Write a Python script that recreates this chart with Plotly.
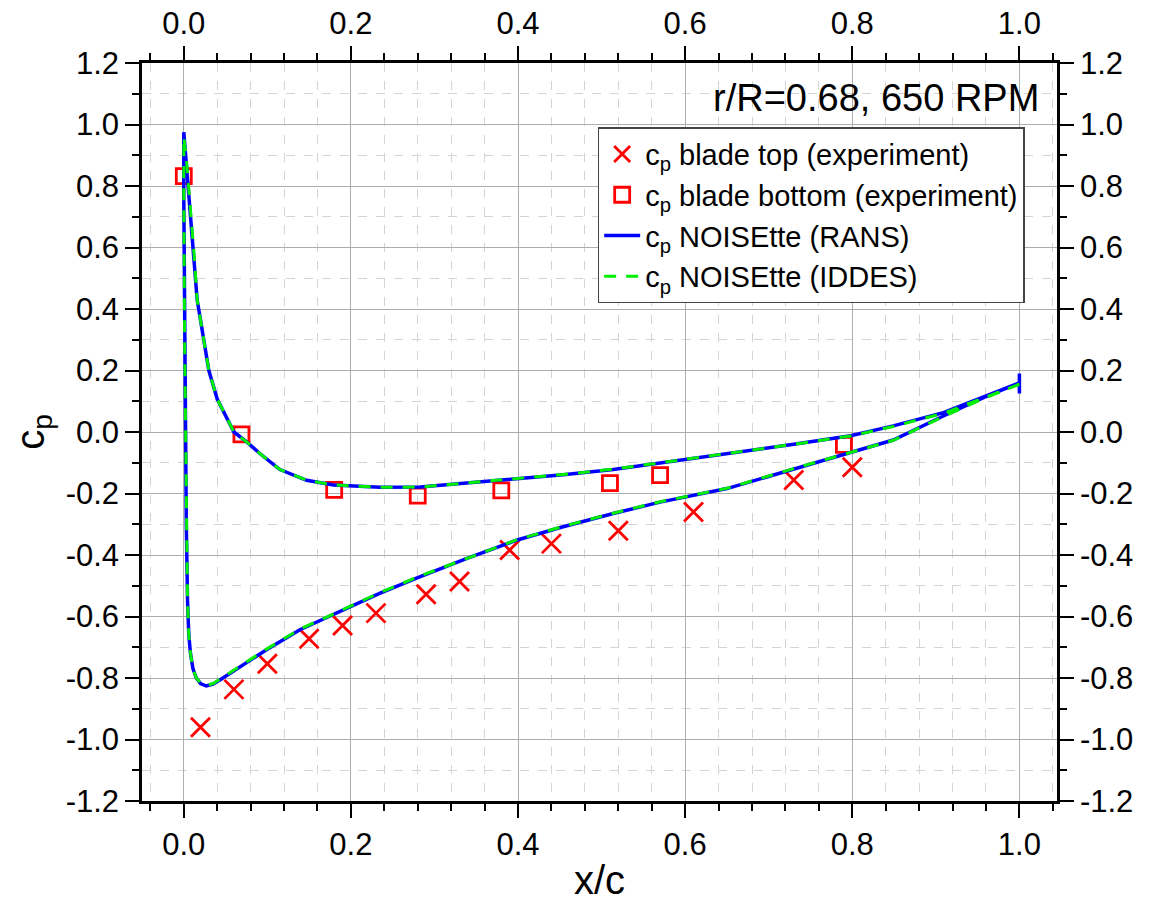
import plotly.graph_objects as go

# experiment, blade top (suction side)
x_top_exp = [0.02, 0.06, 0.10, 0.15, 0.19, 0.23, 0.29, 0.33, 0.39, 0.44, 0.52, 0.61, 0.73, 0.80]
cp_top_exp = [-0.96, -0.837, -0.754, -0.672, -0.629, -0.589, -0.528, -0.486, -0.384, -0.363, -0.321, -0.26, -0.156, -0.115]

# experiment, blade bottom (pressure side)
x_bot_exp = [0.0, 0.069, 0.18, 0.28, 0.38, 0.51, 0.57, 0.79]
cp_bot_exp = [0.832, -0.008, -0.188, -0.207, -0.19, -0.166, -0.14, -0.042]

# NOISEtte RANS: pressure side (LE -> TE) and suction side (LE -> TE)
x_rans_ps = [0.0, 0.002, 0.005, 0.008, 0.011, 0.016, 0.022, 0.030, 0.040, 0.050, 0.060, 0.076, 0.091,
             0.115, 0.147, 0.179, 0.235, 0.283, 0.339, 0.398, 0.454, 0.514, 0.57, 0.65,
             0.73, 0.798, 0.849, 0.909, 0.957, 1.0]
cp_rans_ps = [0.975, 0.90, 0.81, 0.70, 0.60, 0.43, 0.324, 0.20, 0.107, 0.053, 0.0, -0.034, -0.07,
              -0.122, -0.157, -0.172, -0.18, -0.179, -0.167, -0.153, -0.139, -0.122, -0.101, -0.071,
              -0.04, -0.012, 0.02, 0.063, 0.113, 0.16]
x_rans_ss = [0.0, 0.0, 0.001, 0.002, 0.003, 0.0045, 0.006, 0.008, 0.011, 0.015, 0.020, 0.027, 0.035,
             0.045, 0.067, 0.099, 0.139, 0.179, 0.235, 0.283, 0.339, 0.398, 0.454, 0.514, 0.57,
             0.65, 0.73, 0.798, 0.849, 0.909, 0.957, 1.0, 1.0, 1.0]
cp_rans_ss = [0.975, 0.77, 0.30, 0.0, -0.30, -0.55, -0.66, -0.72, -0.77, -0.80, -0.818, -0.826, -0.82,
              -0.803, -0.764, -0.708, -0.643, -0.594, -0.524, -0.47, -0.411, -0.352, -0.308, -0.265, -0.228,
              -0.184, -0.12, -0.067, -0.026, 0.052, 0.112, 0.16, 0.19, 0.125]

# NOISEtte IDDES
x_iddes_ps = [0.0, 0.003, 0.006, 0.009, 0.012, 0.016, 0.022, 0.030, 0.040, 0.050, 0.060, 0.076, 0.091,
              0.115, 0.147, 0.179, 0.235, 0.283, 0.339, 0.398, 0.454, 0.514, 0.57, 0.65,
              0.73, 0.798, 0.849, 0.909, 0.957, 1.0]
cp_iddes_ps = [0.96, 0.89, 0.80, 0.69, 0.59, 0.43, 0.324, 0.20, 0.107, 0.053, 0.0, -0.034, -0.07,
               -0.122, -0.157, -0.172, -0.18, -0.179, -0.166, -0.152, -0.138, -0.121, -0.1, -0.07,
               -0.04, -0.013, 0.018, 0.061, 0.11, 0.155]
x_iddes_ss = [0.0, 0.0, 0.001, 0.002, 0.003, 0.0045, 0.006, 0.008, 0.011, 0.015, 0.020, 0.027, 0.035,
              0.045, 0.067, 0.099, 0.139, 0.179, 0.235, 0.283, 0.339, 0.398, 0.454, 0.514, 0.57,
              0.65, 0.73, 0.798, 0.849, 0.909, 0.957, 1.0]
cp_iddes_ss = [0.96, 0.77, 0.30, 0.0, -0.30, -0.55, -0.66, -0.72, -0.77, -0.80, -0.816, -0.824, -0.818,
               -0.801, -0.762, -0.706, -0.641, -0.592, -0.522, -0.468, -0.41, -0.351, -0.307, -0.264, -0.227,
               -0.183, -0.119, -0.067, -0.027, 0.05, 0.109, 0.155]

x_ticks = [0.0, 0.2, 0.4, 0.6, 0.8, 1.0]
x_tick_labels = ["0.0", "0.2", "0.4", "0.6", "0.8", "1.0"]
y_ticks = [-1.2, -1.0, -0.8, -0.6, -0.4, -0.2, 0.0, 0.2, 0.4, 0.6, 0.8, 1.0, 1.2]
y_tick_labels = ["-1.2", "-1.0", "-0.8", "-0.6", "-0.4", "-0.2", "0.0", "0.2", "0.4", "0.6", "0.8", "1.0", "1.2"]

FONT = "Liberation Sans, Arial, sans-serif"
X_RANGE = [-0.05, 1.045]

# closed loops: pressure side reversed, then suction side
rans_x = x_rans_ps[::-1] + x_rans_ss
rans_cp = cp_rans_ps[::-1] + cp_rans_ss
iddes_x = x_iddes_ps[::-1] + x_iddes_ss
iddes_cp = cp_iddes_ps[::-1] + cp_iddes_ss

fig = go.Figure()
fig.add_trace(go.Scatter(x=x_top_exp, y=cp_top_exp, mode="markers", legendgroup="a",
                         name="c<sub>p</sub> blade top (experiment)",
                         marker=dict(symbol="x-thin", size=19, line=dict(color="#ff0000", width=2.8))))
fig.add_trace(go.Scatter(x=x_bot_exp, y=cp_bot_exp, mode="markers", legendgroup="b",
                         name="c<sub>p</sub> blade bottom (experiment)",
                         marker=dict(symbol="square-open", size=15, color="#ff0000", line=dict(width=2.8))))
fig.add_trace(go.Scatter(x=rans_x, y=rans_cp, mode="lines", legendgroup="c",
                         name="c<sub>p</sub> NOISEtte (RANS)",
                         line=dict(color="#0000ff", width=3.5)))
fig.add_trace(go.Scatter(x=iddes_x, y=iddes_cp, mode="lines", legendgroup="d",
                         name="c<sub>p</sub> NOISEtte (IDDES)",
                         line=dict(color="#00ee00", width=3, dash="12px,10px")))
# dummy trace so the top/right axes get drawn
fig.add_trace(go.Scatter(x=[None], y=[None], xaxis="x2", yaxis="y2", showlegend=False, hoverinfo="skip"))

axis_common = dict(
    showline=True, linecolor="black", linewidth=2.5,
    ticks="outside", ticklen=14, tickwidth=2, tickcolor="black",
    tickfont=dict(family=FONT, size=31, color="black"),
    zeroline=False, automargin=False,
)

# the page body has an 8px margin, so the figure is a bit smaller than the window
fig.update_layout(
    width=1152, height=894,
    margin=dict(l=134, r=103, t=55, b=101),
    paper_bgcolor="white", plot_bgcolor="white",
    font=dict(family=FONT, color="black"),
    xaxis=dict(range=X_RANGE, tickvals=x_ticks, ticktext=x_tick_labels,
               showgrid=True, gridcolor="#adadad", gridwidth=1.2,
               minor=dict(dtick=0.04, tick0=0, ticks="outside", ticklen=7, tickwidth=2, tickcolor="black",
                          showgrid=True, gridcolor="#d4d4d4", griddash="dash", gridwidth=1),
               title=dict(text="x/c", font=dict(family=FONT, size=40), standoff=8),
               **axis_common),
    yaxis=dict(range=[-1.2, 1.2], tickvals=y_ticks, ticktext=y_tick_labels,
               showgrid=True, gridcolor="#adadad", gridwidth=1.2,
               minor=dict(dtick=0.1, tick0=0, ticks="outside", ticklen=7, tickwidth=2, tickcolor="black",
                          showgrid=True, gridcolor="#d4d4d4", griddash="dash", gridwidth=1),
               title=dict(text="c<sub>p</sub>", font=dict(family=FONT, size=40), standoff=20),
               **axis_common),
    xaxis2=dict(overlaying="x", side="top", anchor="y", range=X_RANGE,
                tickvals=x_ticks, ticktext=x_tick_labels, showgrid=False,
                minor=dict(dtick=0.04, tick0=0, ticks="outside", ticklen=7, tickwidth=2, tickcolor="black"),
                **axis_common),
    yaxis2=dict(overlaying="y", side="right", anchor="x", range=[-1.2, 1.2],
                tickvals=y_ticks, ticktext=y_tick_labels, showgrid=False,
                minor=dict(dtick=0.1, tick0=0, ticks="outside", ticklen=7, tickwidth=2, tickcolor="black"),
                **axis_common),
    legend=dict(x=0.498, y=0.913, xanchor="left", yanchor="top",
                bgcolor="white", bordercolor="#444444", borderwidth=1.5,
                font=dict(family=FONT, size=29, color="black"),
                tracegroupgap=0, itemwidth=36),
    showlegend=True,
    annotations=[dict(text="r/R=0.68, 650 RPM", xref="paper", yref="paper", x=0.983, y=0.953,
                      xanchor="right", yanchor="middle", showarrow=False,
                      font=dict(family=FONT, size=38, color="black"))],
)

fig.write_html("out.html")
